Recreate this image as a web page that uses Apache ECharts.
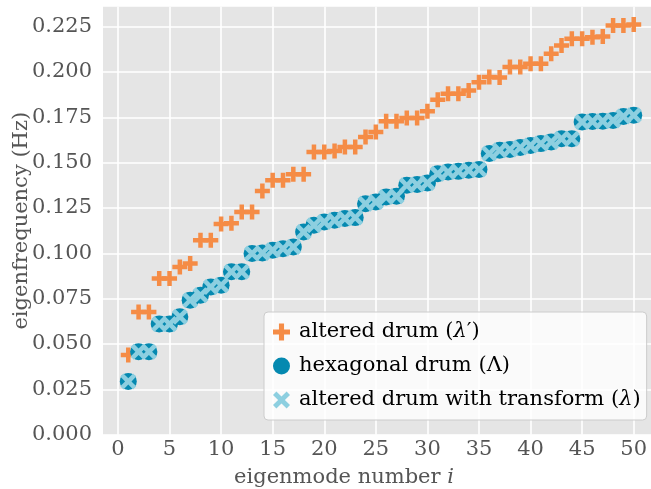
<!DOCTYPE html>
<html>
<head>
<meta charset="utf-8">
<script src="https://cdn.jsdelivr.net/npm/echarts@6/dist/echarts.min.js"></script>
<style>html,body{margin:0;padding:0;background:#fff;}#c{width:651px;height:489px;}</style>
</head>
<body>
<div id="c"></div>
<script>
const modes = [1,2,3,4,5,6,7,8,9,10,11,12,13,14,15,16,17,18,19,20,21,22,23,24,25,26,27,28,29,30,31,32,33,34,35,36,37,38,39,40,41,42,43,44,45,46,47,48,49,50];
const alteredDrum = [0.0439,0.0677,0.0677,0.0861,0.0861,0.0925,0.0944,0.1072,0.1072,0.1162,0.1166,0.1228,0.1228,0.1344,0.1403,0.1403,0.1436,0.1436,0.1559,0.1559,0.1564,0.1586,0.1586,0.1641,0.1669,0.1729,0.1729,0.1746,0.1746,0.1784,0.1847,0.1880,0.1880,0.1898,0.1944,0.1972,0.1970,0.2027,0.2027,0.2045,0.2045,0.2100,0.2146,0.2183,0.2183,0.2192,0.2196,0.2256,0.2256,0.2262];
const hexagonalDrum = [0.0294,0.0457,0.0457,0.0610,0.0610,0.0650,0.0742,0.0769,0.0815,0.0824,0.0898,0.0898,0.0999,0.1002,0.1017,0.1026,0.1035,0.1118,0.1155,0.1173,0.1182,0.1192,0.1197,0.1274,0.1283,0.1311,0.1315,0.1375,0.1379,0.1388,0.1439,0.1448,0.1452,0.1458,0.1463,0.1550,0.1568,0.1572,0.1583,0.1595,0.1605,0.1614,0.1632,0.1632,0.1724,0.1727,0.1729,0.1733,0.1755,0.1761];
const transformedDrum = [0.0294,0.0457,0.0457,0.0610,0.0610,0.0650,0.0742,0.0769,0.0815,0.0824,0.0898,0.0898,0.0999,0.1002,0.1017,0.1026,0.1035,0.1118,0.1155,0.1173,0.1182,0.1192,0.1197,0.1274,0.1283,0.1311,0.1315,0.1375,0.1379,0.1388,0.1439,0.1448,0.1452,0.1458,0.1463,0.1550,0.1568,0.1572,0.1583,0.1595,0.1605,0.1614,0.1632,0.1632,0.1724,0.1727,0.1729,0.1733,0.1755,0.1761];
const xTicks = [0,5,10,15,20,25,30,35,40,45,50];
const yTicks = [0,0.025,0.05,0.075,0.1,0.125,0.15,0.175,0.2,0.225];
const seriesNames = ['altered drum (λ′)', 'hexagonal drum (Λ)', 'altered drum with transform (λ)'];

const FONT = '"DejaVu Serif", "Liberation Serif", serif';
const FS = 21;
const PLUS = 'path://M3.5,0 H6.5 V3.5 H10 V6.5 H6.5 V10 H3.5 V6.5 H0 V3.5 H3.5 Z';
const CROSS = 'path://M2,0 L5,3 L8,0 L10,2 L7,5 L10,8 L8,10 L5,7 L2,10 L0,8 L3,5 L0,2 Z';
const toPts = vals => modes.map((m, k) => [m, vals[k]]);

const chart = echarts.init(document.getElementById('c'), null, {renderer: 'canvas'});
chart.setOption({
  animation: false,
  backgroundColor: '#ffffff',
  grid: {left: 103, width: 556, top: 6.7, height: 428, show: true, backgroundColor: '#e5e5e5', borderWidth: 0,
    containLabel: false, outerBoundsMode: 'none'},
  xAxis: {
    type: 'value', min: -1.45, max: 52.45,
    name: 'eigenmode number {it|i}', nameLocation: 'middle', nameGap: 32,
    nameTextStyle: {fontFamily: FONT, fontSize: FS, color: '#555555', padding: [0, 74, 0, 0],
      rich: {it: {fontStyle: 'italic', fontFamily: FONT, fontSize: FS, color: '#555555'}}},
    axisLine: {show: false},
    axisTick: {show: false, customValues: xTicks},
    axisLabel: {customValues: xTicks, fontFamily: FONT, fontSize: FS, color: '#555555', margin: 4},
    splitLine: {show: true, lineStyle: {color: '#ffffff', width: 1.6}}
  },
  yAxis: {
    type: 'value', min: 0, max: 0.236,
    name: 'eigenfrequency (Hz)', nameLocation: 'middle', nameGap: 71, nameMoveOverlap: false,
    nameTextStyle: {fontFamily: FONT, fontSize: FS, color: '#555555'},
    axisLine: {show: false},
    axisTick: {show: false, customValues: yTicks},
    axisLabel: {customValues: yTicks, fontFamily: FONT, fontSize: FS, color: '#555555', margin: 11,
      formatter: v => v.toFixed(3)},
    splitLine: {show: true, lineStyle: {color: '#ffffff', width: 1.6}}
  },
  legend: {
    orient: 'vertical', left: 264, top: 312,
    itemWidth: 17, itemHeight: 17, itemGap: 12,
    padding: [9, 6, 9, 9],
    backgroundColor: 'rgba(255,255,255,0.8)', borderColor: '#cccccc', borderWidth: 1, borderRadius: 4,
    textStyle: {fontFamily: FONT, fontSize: FS, color: '#000000', lineHeight: 22, padding: [0, 0, 0, 4],
      rich: {it: {fontStyle: 'italic', fontFamily: FONT, fontSize: FS, color: '#000000', lineHeight: 22}}},
    formatter: name => name.replace('λ', '{it|λ}'),
    data: [
      {name: seriesNames[0], icon: PLUS},
      {name: seriesNames[1], icon: 'circle'},
      {name: seriesNames[2], icon: CROSS}
    ]
  },
  series: [
    {name: seriesNames[0], type: 'scatter', data: toPts(alteredDrum), symbol: PLUS, symbolSize: 15,
      itemStyle: {color: '#f58c46', opacity: 1}, z: 3},
    {name: seriesNames[1], type: 'scatter', data: toPts(hexagonalDrum), symbol: 'circle', symbolSize: 17,
      itemStyle: {color: '#0589b0', opacity: 1}, z: 4},
    {name: seriesNames[2], type: 'scatter', data: toPts(transformedDrum), symbol: CROSS, symbolSize: 16,
      itemStyle: {color: '#8dcfe0', opacity: 1}, z: 5}
  ]
});
</script>
</body>
</html>
